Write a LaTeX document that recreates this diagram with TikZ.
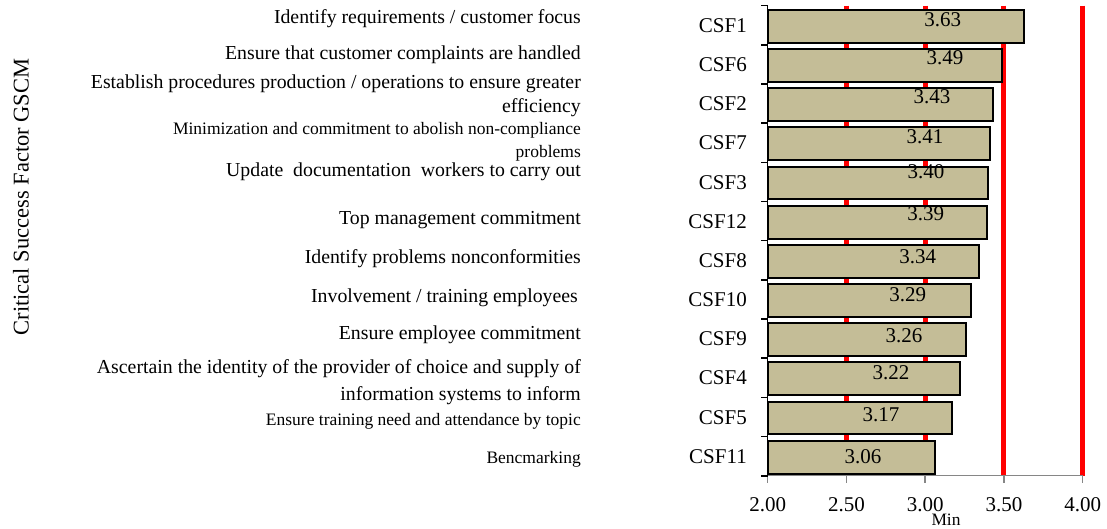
\documentclass[tikz,border=0pt]{standalone}
\usepackage{fontspec}
\setmainfont{Liberation Serif}
\definecolor{bartan}{HTML}{C4BD97}
\definecolor{axisgray}{HTML}{868686}
\begin{document}
\begin{tikzpicture}[x=1pt,y=-1pt,
  lab/.style={anchor=east,inner sep=0pt,font=\fontsize{19.8}{20}\selectfont},
  slab/.style={anchor=east,inner sep=0pt,font=\fontsize{17.5}{18}\selectfont},
  csf/.style={anchor=east,inner sep=0pt,font=\fontsize{21}{22}\selectfont},
  val/.style={inner sep=0pt,font=\fontsize{21}{22}\selectfont},
  tlab/.style={inner sep=0pt,font=\fontsize{21}{22}\selectfont},
  redline/.style={red,line width=5pt},
  barbox/.style={draw=black,fill=bartan,line width=2pt}
]
\useasboundingbox (0,0) rectangle (1107,528);
% red reference lines (behind bars)
\foreach \v in {2.5,3.0,3.5,4.0}
  \draw[redline] ({767.7+(\v-2)*157.5},5.7) -- ({767.7+(\v-2)*157.5},475.7);
% bars and category labels
\foreach \val/\nm [count=\k] in {3.63/CSF1,3.49/CSF6,3.43/CSF2,3.41/CSF7,3.40/CSF3,3.39/CSF12,3.34/CSF8,3.29/CSF10,3.26/CSF9,3.22/CSF4,3.17/CSF5,3.06/CSF11} {
  \pgfmathsetmacro{\yt}{5.7+39.17*(\k-1)}
  \draw[barbox] (767.7,{\yt+4.2}) rectangle ({767.7+(\val-2)*157.5},{\yt+37});
  \node[csf] (c\k) at (747,{\yt+19.8}) {\nm};
}
% bottom axis
\draw[axisgray,line width=1.5pt] (767.7,475.7) -- (1082.7,475.7);
\foreach \v/\t [count=\j] in {2/2.00,2.5/2.50,3/3.00,3.5/3.50,4/4.00} {
  \draw[axisgray,line width=1.5pt] ({767.7+(\v-2)*157.5},475.7) -- ({767.7+(\v-2)*157.5},482.7);
  \node[tlab] (t\j) at ({767.7+(\v-2)*157.5},505) {\t};
}
% left axis
\draw[black,line width=1.5pt] (767.7,5.7) -- (767.7,475.7);
\foreach \k in {0,...,12}
  \draw[black,line width=1.5pt] (761,{5.7+39.17*\k}) -- (767.7,{5.7+39.17*\k});
% value labels
\node[val] (v1) at (942.7,20) {3.63};
\node[val] (v2) at (945,58) {3.49};
\node[val] (v3) at (932,97) {3.43};
\node[val] (v4) at (925,137) {3.41};
\node[val] (v5) at (926,172) {3.40};
\node[val] (v6) at (925.7,214) {3.39};
\node[val] (v7) at (917.7,256.7) {3.34};
\node[val] (v8) at (907.7,295) {3.29};
\node[val] (v9) at (904,336) {3.26};
\node[val] (v10) at (891,373) {3.22};
\node[val] (v11) at (881,415) {3.17};
\node[val] (v12) at (863,456.7) {3.06};
% left descriptions
\node[lab] (d1) at (581,19) {Identify requirements / customer focus};
\node[lab] (d2) at (581,55) {Ensure that customer complaints are handled};
\node[lab] (d3) at (581,84) {Establish procedures production / operations to ensure greater};
\node[lab] (d3b) at (581,108) {efficiency};
\node[slab] (d4) at (581,130) {Minimization and commitment to abolish non-compliance};
\node[slab] (d4b) at (581,153) {problems};
\node[lab] (d5) at (581,172) {Update\ \ documentation\ \ workers to carry out};
\node[lab] (d6) at (581,220) {Top management commitment};
\node[lab] (d7) at (581,259) {Identify problems nonconformities};
\node[lab] (d8) at (578,298) {Involvement / training employees};
\node[lab] (d9) at (581,335) {Ensure employee commitment};
\node[lab] (d10) at (581,369) {Ascertain the identity of the provider of choice and supply of};
\node[lab] (d10b) at (581,396) {information systems to inform};
\node[slab] (d11) at (581,421) {Ensure training need and attendance by topic};
\node[slab] (d12) at (581,459) {Bencmarking};
% axis titles
\node[rotate=90,inner sep=0pt,font=\fontsize{22.5}{23}\selectfont] (ytitle) at (21,197) {Critical Success Factor GSCM};
\node[inner sep=0pt,font=\fontsize{17.4}{18}\selectfont] (xtitle) at (946,520) {Min};
\end{tikzpicture}
\end{document}
